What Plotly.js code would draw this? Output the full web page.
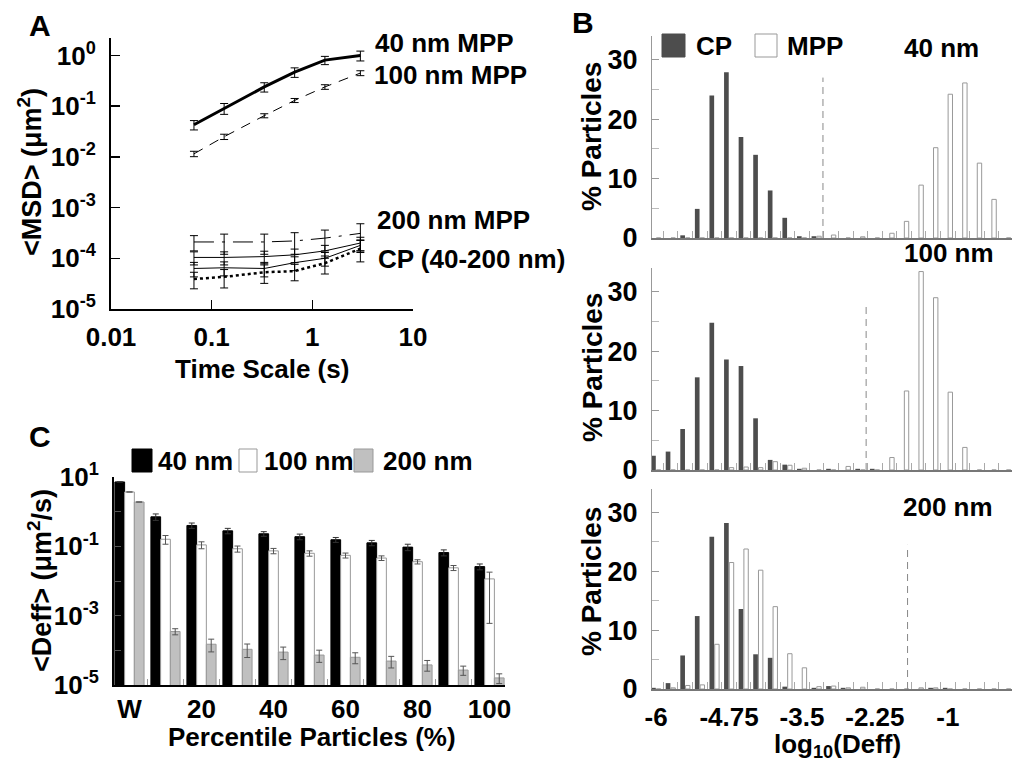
<!DOCTYPE html>
<html>
<head>
<meta charset="utf-8">
<script src="https://cdn.plot.ly/plotly-3.0.1.min.js"></script>
<style>html,body{margin:0;padding:0;background:#fff;}#chart{width:1012px;height:768px;}</style>
</head>
<body>
<div id="chart"></div>
<script>
// ---------- Panel A: MSD vs time scale ----------
const timeScale = [0.0667, 0.133, 0.333, 0.667, 1.333, 3];
const msd40MPP = [0.043, 0.091, 0.24, 0.47, 0.81, 1.0];
const msd40MPPErr = [0.009, 0.022, 0.05, 0.1, 0.15, 0.22];
const msd100MPP = [0.0115, 0.025, 0.065, 0.13, 0.24, 0.45];
const msd100MPPErr = [0.0014, 0.003, 0.006, 0.012, 0.025, 0.05];
const msd200MPP = [2.1e-4, 2.1e-4, 2.1e-4, 2.2e-4, 2.5e-4, 3.1e-4];
const msd200MPPErr = [0.7e-4, 0.9e-4, 0.9e-4, 1.0e-4, 1.1e-4, 1.7e-4];
const msdCP40 = [1.04e-4, 1.04e-4, 1.08e-4, 1.17e-4, 1.4e-4, 2.0e-4];
const msdCP40Err = [0.3e-4, 0.3e-4, 0.3e-4, 0.35e-4, 0.4e-4, 0.6e-4];
const msdCP100 = [6.3e-5, 6.5e-5, 6.3e-5, 8.2e-5, 1.0e-4, 1.8e-4];
const msdCP100Err = [0.2e-4, 0.2e-4, 0.2e-4, 0.25e-4, 0.3e-4, 0.5e-4];
const msdCP200 = [3.9e-5, 4.3e-5, 5.3e-5, 5.6e-5, 8.0e-5, 1.55e-4];
const msdCP200Err = [1.4e-5, 1.7e-5, 2.1e-5, 2.0e-5, 3.1e-5, 7.0e-5];
const aXTicks = [0.01, 0.1, 1, 10];
const aXTickText = ['0.01', '0.1', '1', '10'];
const aYTicks = [1e-5, 1e-4, 1e-3, 1e-2, 1e-1, 1];
const aYTickText = ['10<sup>-5</sup>', '10<sup>-4</sup>', '10<sup>-3</sup>', '10<sup>-2</sup>', '10<sup>-1</sup>', '10<sup>0</sup>'];

// ---------- Panel B: histograms of log10(Deff) ----------
const binCenters = [-6, -5.75, -5.5, -5.25, -5, -4.75, -4.5, -4.25, -4, -3.75, -3.5, -3.25, -3, -2.75, -2.5, -2.25, -2, -1.75, -1.5, -1.25, -1, -0.75, -0.5, -0.25, 0];
const cp40 = [0, 0, 0.45, 4.9, 24.0, 27.9, 17.0, 14.0, 8.0, 3.4, 0.3, 0.3, 0, 0, 0, 0, 0, 0, 0, 0, 0, 0, 0, 0, 0];
const mpp40 = [0, 0, 0, 0, 0, 0, 0, 0, 0, 0, 0, 0.3, 0.5, 0, 0.2, 0, 0.8, 2.8, 8.9, 15.2, 24.2, 26.1, 12.6, 6.5, 0];
const cp100 = [2.4, 3.1, 6.9, 15.6, 24.8, 18.6, 17.5, 8.7, 1.7, 0.9, 0.2, 0, 0.2, 0, 0.2, 0.2, 0, 0, 0, 0, 0, 0, 0, 0, 0];
const mpp100 = [0, 0, 0, 0, 0, 0.4, 0.5, 0.4, 1.4, 0.8, 0.3, 0, 0, 0.6, 0, 0, 2.1, 13.3, 33.4, 29.0, 13.1, 3.8, 0, 0, 0];
const cp200 = [0.2, 1.0, 5.7, 12.4, 25.9, 28.2, 13.6, 5.9, 5.3, 0.4, 0, 0.2, 0.5, 0.2, 0, 0, 0, 0, 0, 0.2, 0.2, 0, 0, 0, 0];
const mpp200 = [0, 0.2, 0.6, 0.7, 7.6, 21.5, 23.8, 20.2, 14.0, 6.0, 3.6, 0.4, 0.5, 0.2, 0.3, 0, 0, 0, 0.2, 0.2, 0, 0, 0, 0, 0];
const thresholdLog = [-3.14, -2.4, -1.69];
const thresholdTop = [27, 27.5, 24.5];
const bTickVals = [-6, -4.75, -3.5, -2.25, -1];
const bTickText = ['-6', '-4.75', '-3.5', '-2.25', '-1'];
const bSizeLabels = ['40 nm', '100 nm', '200 nm'];

// ---------- Panel C: Deff by percentile ----------
const percentiles = ['W', '10', '20', '30', '40', '50', '60', '70', '80', '90', '100'];
const deff40 = [7.2, 0.71, 0.40, 0.28, 0.23, 0.19, 0.155, 0.126, 0.095, 0.066, 0.026];
const deff40Err = [0, 0.15, 0.07, 0.05, 0.035, 0.035, 0.025, 0.022, 0.02, 0.013, 0.005];
const deff100 = [3.7, 0.16, 0.11, 0.085, 0.074, 0.063, 0.055, 0.046, 0.036, 0.024, 0.0115];
const deff100ErrPlus = [0, 0.045, 0.025, 0.017, 0.013, 0.011, 0.009, 0.007, 0.005, 0.004, 0.0065];
const deff100ErrMinus = [0, 0.045, 0.025, 0.017, 0.013, 0.011, 0.009, 0.007, 0.005, 0.004, 0.0109];
const deff200 = [1.9, 3.5e-4, 1.5e-4, 1.07e-4, 8.9e-5, 7.3e-5, 6.3e-5, 4.9e-5, 3.8e-5, 2.7e-5, 1.6e-5];
const deff200Err = [0, 0.7e-4, 0.6e-4, 0.45e-4, 0.35e-4, 0.28e-4, 0.22e-4, 0.18e-4, 0.13e-4, 0.08e-4, 0.05e-4];
const cLabelIdx = [0, 2, 4, 6, 8, 10];
const cYTicks = [1e-5, 1e-4, 1e-3, 1e-2, 1e-1, 1, 10];
const cYTickText = ['10<sup>-5</sup>', '', '10<sup>-3</sup>', '', '10<sup>-1</sup>', '', '10<sup>1</sup>'];

// ---------- helpers (layout only) ----------
const W = 1012, H = 768;
const X = p => p / W;
const Y = p => 1 - p / H;
const FAM = 'Liberation Sans, Arial, sans-serif';
const bold = (size, color) => ({family: FAM, size: size, color: color || '#000', weight: 'bold'});

const traces = [];
// Panel A
const errA = (arr) => ({type: 'data', array: arr, visible: true, color: '#000', thickness: 1, width: 4});
traces.push({x: timeScale, y: msd40MPP, xaxis: 'x', yaxis: 'y', mode: 'lines', line: {color: '#000', width: 3}, error_y: errA(msd40MPPErr), showlegend: false});
traces.push({x: timeScale, y: msd100MPP, xaxis: 'x', yaxis: 'y', mode: 'lines', line: {color: '#000', width: 1, dash: '10px,8px'}, error_y: errA(msd100MPPErr), showlegend: false});
traces.push({x: timeScale, y: msd200MPP, xaxis: 'x', yaxis: 'y', mode: 'lines', line: {color: '#000', width: 1, dash: '20px,8px,3px,8px'}, error_y: errA(msd200MPPErr), showlegend: false});
traces.push({x: timeScale, y: msdCP40, xaxis: 'x', yaxis: 'y', mode: 'lines', line: {color: '#000', width: 1}, error_y: errA(msdCP40Err), showlegend: false});
traces.push({x: timeScale, y: msdCP100, xaxis: 'x', yaxis: 'y', mode: 'lines', line: {color: '#000', width: 1}, error_y: errA(msdCP100Err), showlegend: false});
traces.push({x: timeScale, y: msdCP200, xaxis: 'x', yaxis: 'y', mode: 'lines', line: {color: '#000', width: 2.5, dash: '3px,3px'}, error_y: errA(msdCP200Err), showlegend: false});

// Panel C
const cIdx = percentiles.map((_, i) => i);
traces.push({type: 'bar', x: cIdx, y: deff40, xaxis: 'x2', yaxis: 'y2', width: 0.27, offset: -0.405,
  marker: {color: '#000', line: {color: '#000', width: 1}},
  error_y: {type: 'data', array: deff40Err, visible: true, color: '#333', thickness: 1, width: 3}, showlegend: false});
traces.push({type: 'bar', x: cIdx, y: deff100, xaxis: 'x2', yaxis: 'y2', width: 0.27, offset: -0.135,
  marker: {color: '#fff', line: {color: '#999', width: 1}},
  error_y: {type: 'data', array: deff100ErrPlus, arrayminus: deff100ErrMinus, symmetric: false, visible: true, color: '#555', thickness: 1, width: 3}, showlegend: false});
traces.push({type: 'bar', x: cIdx, y: deff200, xaxis: 'x2', yaxis: 'y2', width: 0.27, offset: 0.135,
  marker: {color: '#c0c0c0', line: {color: '#999', width: 1}},
  error_y: {type: 'data', array: deff200Err, visible: true, color: '#555', thickness: 1, width: 3}, showlegend: false});

// Panel B
const bPairs = [[cp40, mpp40], [cp100, mpp100], [cp200, mpp200]];
bPairs.forEach((pair, i) => {
  const xa = 'x' + (i + 3), ya = 'y' + (i + 3);
  traces.push({type: 'bar', x: binCenters, y: pair[0], xaxis: xa, yaxis: ya, width: 0.08, offset: -0.085,
    marker: {color: '#4d4d4d', line: {width: 0}}, showlegend: false});
  traces.push({type: 'bar', x: binCenters, y: pair[1], xaxis: xa, yaxis: ya, width: 0.075, offset: 0.005,
    marker: {color: '#fff', line: {color: '#999', width: 1}}, showlegend: false});
});

const baseAxis = {showgrid: false, zeroline: false, showline: true, linecolor: '#000', linewidth: 2, mirror: false, fixedrange: true};

const layout = {
  width: W, height: H, margin: {l: 0, r: 0, t: 0, b: 0},
  paper_bgcolor: '#fff', plot_bgcolor: 'rgba(0,0,0,0)',
  barmode: 'overlay', showlegend: false,
  font: {family: FAM},
  xaxis: Object.assign({}, baseAxis, {domain: [X(111), X(413)], type: 'log', range: [-2, 1], anchor: 'y',
    tickmode: 'array', tickvals: aXTicks, ticktext: aXTickText, ticks: 'inside', ticklen: 9, tickwidth: 1.5, tickcolor: '#000',
    tickfont: bold(26), ticklabelstandoff: 4}),
  yaxis: Object.assign({}, baseAxis, {domain: [Y(309), Y(38)], type: 'log', range: [-5, 0.345], anchor: 'x',
    tickmode: 'array', tickvals: aYTicks, ticktext: aYTickText, ticks: 'inside', ticklen: 9, tickwidth: 1.5, tickcolor: '#000',
    tickfont: bold(26), ticklabelstandoff: 8}),
  xaxis2: Object.assign({}, baseAxis, {domain: [X(114), X(505)], range: [-0.43, 10.43], anchor: 'y2',
    tickmode: 'array', tickvals: cLabelIdx, ticktext: cLabelIdx.map(i => percentiles[i]), ticks: '',
    minor: {ticks: 'inside', tick0: 0.5, dtick: 1, ticklen: 6, tickcolor: '#999', tickwidth: 1},
    tickfont: bold(26), ticklabelstandoff: 0}),
  yaxis2: Object.assign({}, baseAxis, {domain: [Y(685), Y(477)], type: 'log', range: [-5, 1], anchor: 'x2',
    tickmode: 'array', tickvals: cYTicks, ticktext: cYTickText, ticks: 'inside', ticklen: 7, tickwidth: 1, tickcolor: '#555',
    tickfont: bold(26), ticklabelstandoff: 8})
};

const bDomains = [[238, 36], [470, 268], [689, 489]];
bDomains.forEach((d, i) => {
  const n = i + 3;
  layout['xaxis' + n] = Object.assign({}, baseAxis, {domain: [X(652), X(1012)], range: [-6.07, 0.1], anchor: 'y' + n,
    linecolor: '#777', linewidth: 1.5,
    tickmode: 'array', tickvals: bTickVals, ticktext: bTickText, ticks: '', showticklabels: n === 5,
    minor: {ticks: 'inside', tick0: -6.125, dtick: 0.25, ticklen: 7, tickcolor: '#aaa', tickwidth: 1},
    tickfont: bold(26), ticklabelstandoff: 4});
  layout['yaxis' + n] = Object.assign({}, baseAxis, {domain: [Y(d[0]), Y(d[1])], range: [0, 34], anchor: 'x' + n,
    linecolor: '#999', linewidth: 1,
    tickmode: 'linear', tick0: 0, dtick: 10, ticks: 'inside', ticklen: 7, tickcolor: '#999', tickwidth: 1,
    minor: {ticks: 'inside', dtick: 5, ticklen: 7, tickcolor: '#bbb', tickwidth: 1},
    tickfont: bold(27), ticklabelstandoff: 8});
});

// threshold dashed lines in panel B
layout.shapes = thresholdLog.map((t, i) => ({type: 'line', xref: 'x' + (i + 3), yref: 'y' + (i + 3),
  x0: t, x1: t, y0: 0, y1: thresholdTop[i], line: {color: '#888', width: 1, dash: '7px,5px'}}));

// legend swatches (panel B and panel C)
const sw = (x0, y0, x1, y1, fill, lc) => ({type: 'rect', xref: 'paper', yref: 'paper', x0: X(x0), x1: X(x1), y0: Y(y1), y1: Y(y0),
  fillcolor: fill, line: {color: lc, width: 1}});
layout.shapes.push(sw(662, 34, 685, 57, '#4d4d4d', '#4d4d4d'));
layout.shapes.push(sw(755, 34, 777, 57, '#fff', '#999'));
layout.shapes.push(sw(132, 449, 152, 472, '#000', '#000'));
layout.shapes.push(sw(239, 449, 257, 472, '#fff', '#999'));
layout.shapes.push(sw(354, 449, 373, 472, '#c0c0c0', '#999'));

const ann = (text, x, y, size, opts) => Object.assign({text: text, xref: 'paper', yref: 'paper', x: X(x), y: Y(y),
  xanchor: 'center', yanchor: 'middle', showarrow: false, font: bold(size)}, opts || {});

layout.annotations = [
  ann('A', 40, 26, 30), ann('B', 583, 23, 30), ann('C', 40, 436, 30),
  // Panel A labels
  ann('40 nm MPP', 373, 43, 26, {xanchor: 'left'}),
  ann('100 nm MPP', 372, 75, 26, {xanchor: 'left'}),
  ann('200 nm MPP', 375, 220, 26, {xanchor: 'left'}),
  ann('CP (40-200 nm)', 376, 259, 26, {xanchor: 'left'}),
  ann('&lt;MSD&gt; (μm<sup>2</sup>)', 30, 172, 27, {textangle: -90}),
  ann('Time Scale (s)', 262, 369, 26),
  // Panel C
  ann('&lt;Deff&gt; (μm<sup>2</sup>/s)', 40, 581, 27, {textangle: -90}),
  ann('Percentile Particles (%)', 312, 737, 26),
  ann('40 nm', 156, 461, 26, {xanchor: 'left'}),
  ann('100 nm', 262, 461, 26, {xanchor: 'left'}),
  ann('200 nm', 381, 461, 26, {xanchor: 'left'}),
  // Panel B
  ann('CP', 694, 46, 26, {xanchor: 'left'}),
  ann('MPP', 785, 46, 26, {xanchor: 'left'}),
  ann(bSizeLabels[0], 941, 48, 26),
  ann(bSizeLabels[1], 949, 253, 26),
  ann(bSizeLabels[2], 948, 507, 26),
  ann('% Particles', 592, 137, 28, {textangle: -90}),
  ann('% Particles', 592, 368, 28, {textangle: -90}),
  ann('% Particles', 591, 582, 28, {textangle: -90}),
  ann('log<sub>10</sub>(Deff)', 837, 745, 26)
];

Plotly.newPlot('chart', traces, layout, {staticPlot: true, displayModeBar: false});
</script>
</body>
</html>
